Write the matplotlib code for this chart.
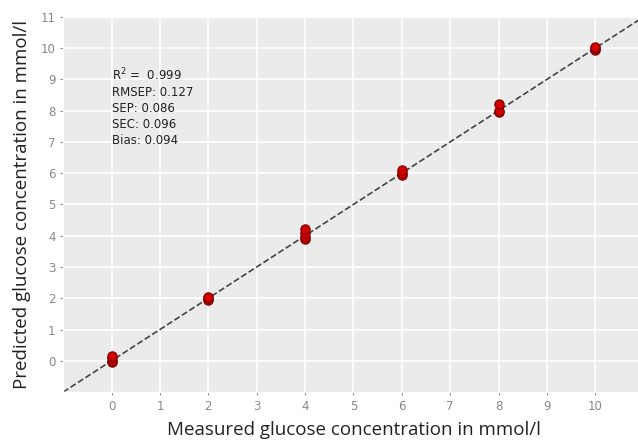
import matplotlib
matplotlib.use("Agg")
import matplotlib.pyplot as plt

plt.style.use("ggplot")

# -------------------------------
# Data
# -------------------------------
measured = [0, 0, 0, 0, 2, 2, 2, 4, 4, 4, 4, 6, 6, 6, 8, 8, 8, 10, 10, 10]
predicted = [-0.05, 0.0, 0.1, 0.15, 1.95, 2.0, 2.05, 3.9, 3.95, 4.1, 4.2,
             5.95, 6.0, 6.1, 7.95, 8.0, 8.2, 9.95, 10.0, 10.05]
stats_lines = ["R$^2$ =  0.999", "RMSEP: 0.127", "SEP: 0.086", "SEC: 0.096", "Bias: 0.094"]
ticks = list(range(0, 12))

# -------------------------------
# Plot
# -------------------------------
fig = plt.figure(figsize=(6.38, 4.42), dpi=100)
ax = fig.add_axes([0.099, 0.113, 0.91, 0.849])

ax.plot([-1, 11], [-1, 11], linestyle="--", color="#444444", linewidth=1.2, zorder=2)
ax.scatter(measured, predicted, s=45, color="#d40000", edgecolor="#7a0000",
           linewidth=0.8, zorder=3)

ax.set_xlim(-1, 11)
ax.set_ylim(-1, 11)
ax.set_xticks(ticks)
ax.set_yticks(ticks)
ax.tick_params(colors="#888888", labelsize=8.5, length=2)
ax.set_facecolor("#ebebeb")
ax.grid(color="white", linewidth=1.2)

ax.text(0.0, 9.4, "\n".join(stats_lines), fontsize=8.5, va="top", ha="left",
        color="#222222", linespacing=1.3)

ax.set_xlabel("Measured glucose concentration in mmol/l", fontsize=13.5,
              color="#222222", family="Open Sans", labelpad=6)
ax.set_ylabel("Predicted glucose concentration in mmol/l", fontsize=13.5,
              color="#222222", family="Open Sans", labelpad=7)

fig.savefig("out.png", dpi=100)
